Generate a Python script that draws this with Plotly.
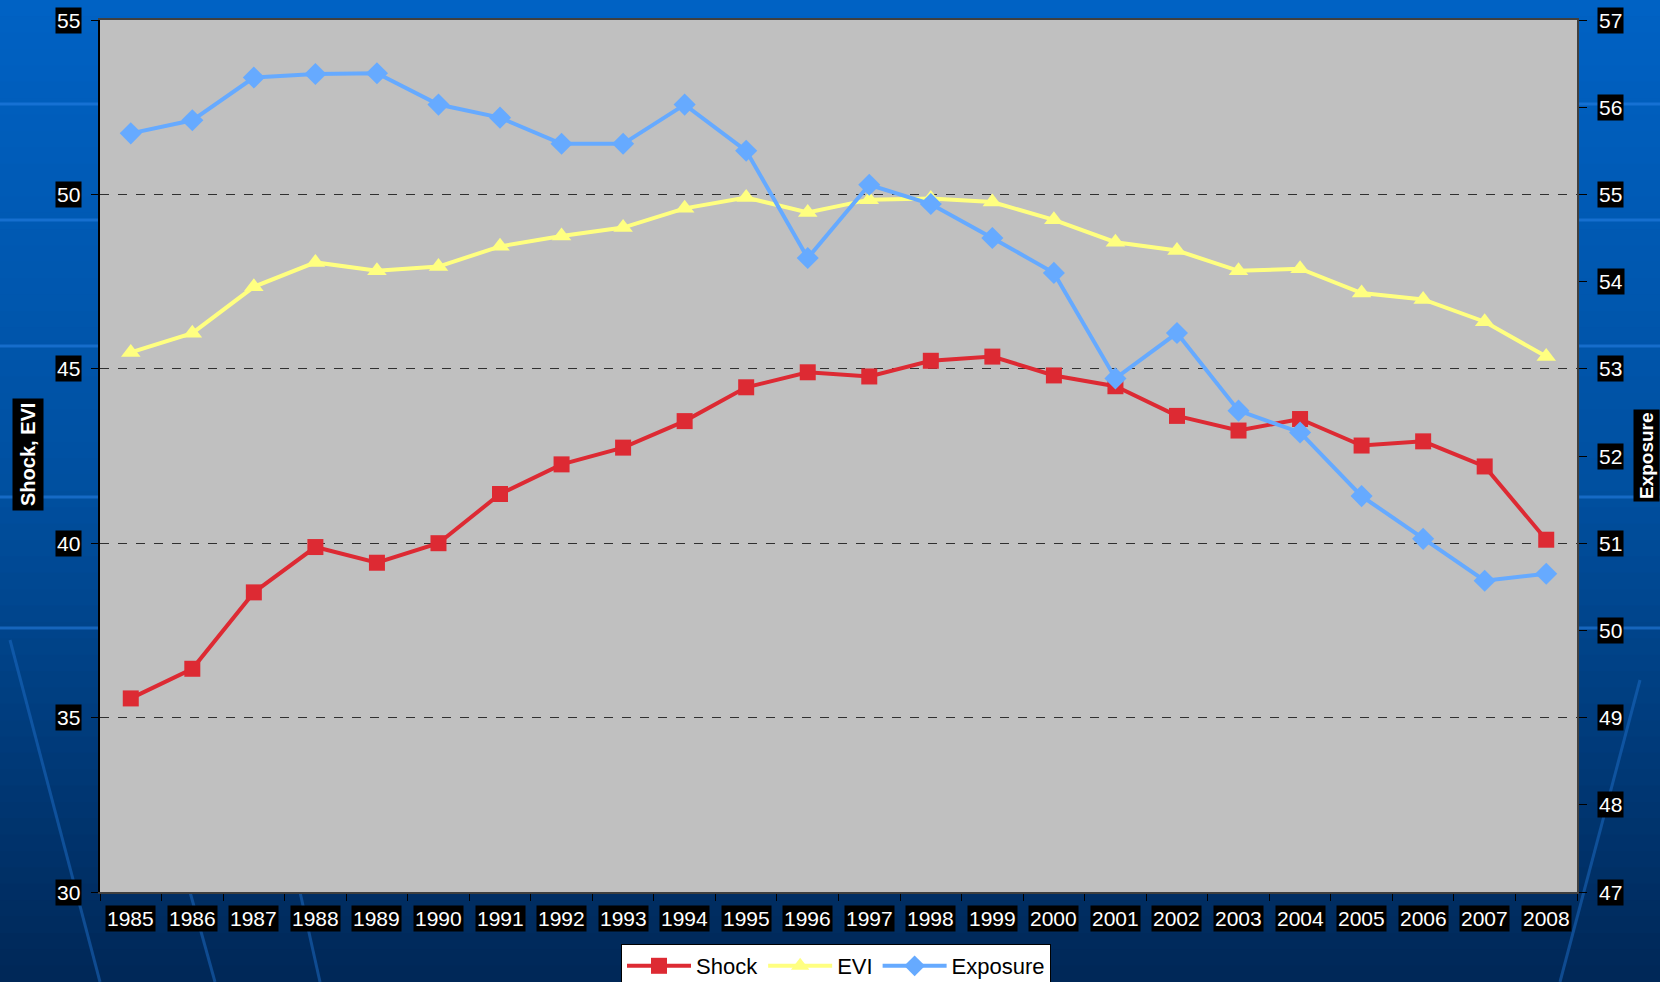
import plotly.graph_objects as go

years = [str(y) for y in range(1985, 2009)]
shock = [35.55, 36.4, 38.59, 39.89, 39.44, 40.0, 41.41, 42.26, 42.74, 43.5, 44.47, 44.9,
         44.78, 45.23, 45.35, 44.81, 44.5, 43.65, 43.23, 43.56, 42.8, 42.92, 42.2, 40.1]
evi = [45.47, 46.02, 47.35, 48.05, 47.81, 47.93, 48.51, 48.81, 49.05, 49.6, 49.91, 49.48,
       49.85, 49.88, 49.78, 49.27, 48.63, 48.39, 47.81, 47.87, 47.17, 46.99, 46.35, 45.35]
exposure = [55.70, 55.85, 56.34, 56.38, 56.39, 56.03, 55.88, 55.58, 55.58, 56.03, 55.50, 54.27,
            55.11, 54.89, 54.50, 54.10, 52.89, 53.41, 52.52, 52.27, 51.54, 51.05, 50.57, 50.65]
left_ticks = [30, 35, 40, 45, 50, 55]
right_ticks = [47, 48, 49, 50, 51, 52, 53, 54, 55, 56, 57]

FONT = "Liberation Sans, Arial, sans-serif"
W, H = 1660, 982
L, R, T, B = 100, 83, 20, 90
PW, PH = W - L - R, H - T - B


def px(x):
    return (x - L) / PW


def py(y):
    return (H - B - y) / PH


fig = go.Figure()
fig.add_trace(go.Scatter(x=years, y=shock, name="Shock", mode="lines+markers",
                         line=dict(color="#DD2A33", width=4),
                         marker=dict(symbol="square", size=16, color="#DD2A33")))
fig.add_trace(go.Scatter(x=years, y=evi, name="EVI", mode="lines+markers",
                         line=dict(color="#FFFF80", width=4),
                         marker=dict(symbol="triangle-up", size=17, color="#FFFF80")))
fig.add_trace(go.Scatter(x=years, y=exposure, name="Exposure", mode="lines+markers", yaxis="y2",
                         line=dict(color="#66AAFF", width=4),
                         marker=dict(symbol="diamond", size=17, color="#66AAFF")))

# background gradient
shapes = []
n = 60
top = (0, 98, 196)
mid = (0, 80, 160)
bot = (0, 40, 88)
for i in range(n):
    t = i / (n - 1)
    if t < 0.5:
        a, b, u = top, mid, t / 0.5
    else:
        a, b, u = mid, bot, (t - 0.5) / 0.5
    c = tuple(int(a[k] + (b[k] - a[k]) * u) for k in range(3))
    ya = i * H / n
    yb = (i + 1) * H / n + 1
    shapes.append(dict(type="rect", xref="paper", yref="paper", x0=px(0), x1=px(W),
                       y0=py(yb), y1=py(ya),
                       fillcolor="rgb(%d,%d,%d)" % c, line=dict(width=0), layer="below"))
# subtle light lines
for yy in [104, 220, 346, 497, 628]:
    shapes.append(dict(type="line", xref="paper", yref="paper", x0=px(0), x1=px(W), y0=py(yy), y1=py(yy),
                       line=dict(color="rgba(40,130,230,0.55)", width=3), layer="below"))
for (xa, ya, xb, yb) in [(10, 640, 100, 982), (190, 892, 215, 982), (300, 892, 320, 982),
                         (1640, 680, 1560, 982)]:
    shapes.append(dict(type="line", xref="paper", yref="paper",
                       x0=px(xa), y0=py(ya), x1=px(xb), y1=py(yb),
                       line=dict(color="rgba(30,110,200,0.5)", width=3), layer="below"))
# plot area
shapes.append(dict(type="rect", xref="paper", yref="paper", x0=0, x1=1, y0=0, y1=1,
                   fillcolor="#C0C0C0", line=dict(width=0), layer="below"))

annotations = []
for i, yv in enumerate(years):
    annotations.append(dict(x=i, y=0, xref="x", yref="paper", yshift=-26, text=yv, showarrow=False,
                            font=dict(family=FONT, size=21, color="white"), bgcolor="black",
                            borderpad=1, xanchor="center", yanchor="middle"))
for v in left_ticks:
    annotations.append(dict(x=0, y=v, xref="paper", yref="y", xshift=-18, text=str(v), showarrow=False,
                            font=dict(family=FONT, size=21, color="white"), bgcolor="black",
                            borderpad=1, xanchor="right", yanchor="middle"))
for v in right_ticks:
    annotations.append(dict(x=1, y=v, xref="paper", yref="y2", xshift=20, text=str(v), showarrow=False,
                            font=dict(family=FONT, size=21, color="white"), bgcolor="black",
                            borderpad=1, xanchor="left", yanchor="middle"))
annotations.append(dict(x=px(28), y=py(455), xref="paper", yref="paper", text="<b>Shock, EVI</b>",
                        showarrow=False, textangle=-90, xanchor="center", yanchor="middle",
                        font=dict(family=FONT, size=20, color="white"), bgcolor="black", borderpad=4))
annotations.append(dict(x=px(1646), y=py(456), xref="paper", yref="paper",
                        text="<b>Exposure</b>", showarrow=False, textangle=-90,
                        xanchor="center", yanchor="middle",
                        font=dict(family=FONT, size=19, color="white"), bgcolor="black", borderpad=2))

fig.update_layout(
    width=W, height=H,
    margin=dict(l=L, r=R, t=T, b=B, autoexpand=False),
    paper_bgcolor="#003070",
    plot_bgcolor="rgba(0,0,0,0)",
    font=dict(family=FONT),
    shapes=shapes,
    annotations=annotations,
    showlegend=True,
    legend=dict(orientation="h", x=px(836), xanchor="center", y=py(944), yanchor="top",
                bgcolor="white", bordercolor="black", borderwidth=1,
                font=dict(family=FONT, size=22, color="black"), itemwidth=64,
                tracegroupgap=0),
    xaxis=dict(type="category", range=[-0.5, 23.5], showticklabels=False, ticks="outside",
               tickson="boundaries", ticklen=7, tickcolor="black", showline=True,
               linecolor="#404040", linewidth=2, mirror=True, showgrid=False, zeroline=False),
    yaxis=dict(range=[30, 55], tickvals=left_ticks, showticklabels=False, ticks="outside",
               ticklen=7, tickcolor="black", showline=True, linecolor="black", linewidth=2,
               showgrid=True, gridcolor="#303030", griddash="dash", gridwidth=1, zeroline=False),
    yaxis2=dict(range=[47, 57], tickvals=right_ticks, overlaying="y", side="right",
                showticklabels=False, ticks="outside", ticklen=8, tickcolor="black",
                showline=True, linecolor="#404040", linewidth=2, showgrid=False, zeroline=False),
)

fig.write_html("out.html", config={"displayModeBar": False},
               post_script="document.body.style.margin='0';")
